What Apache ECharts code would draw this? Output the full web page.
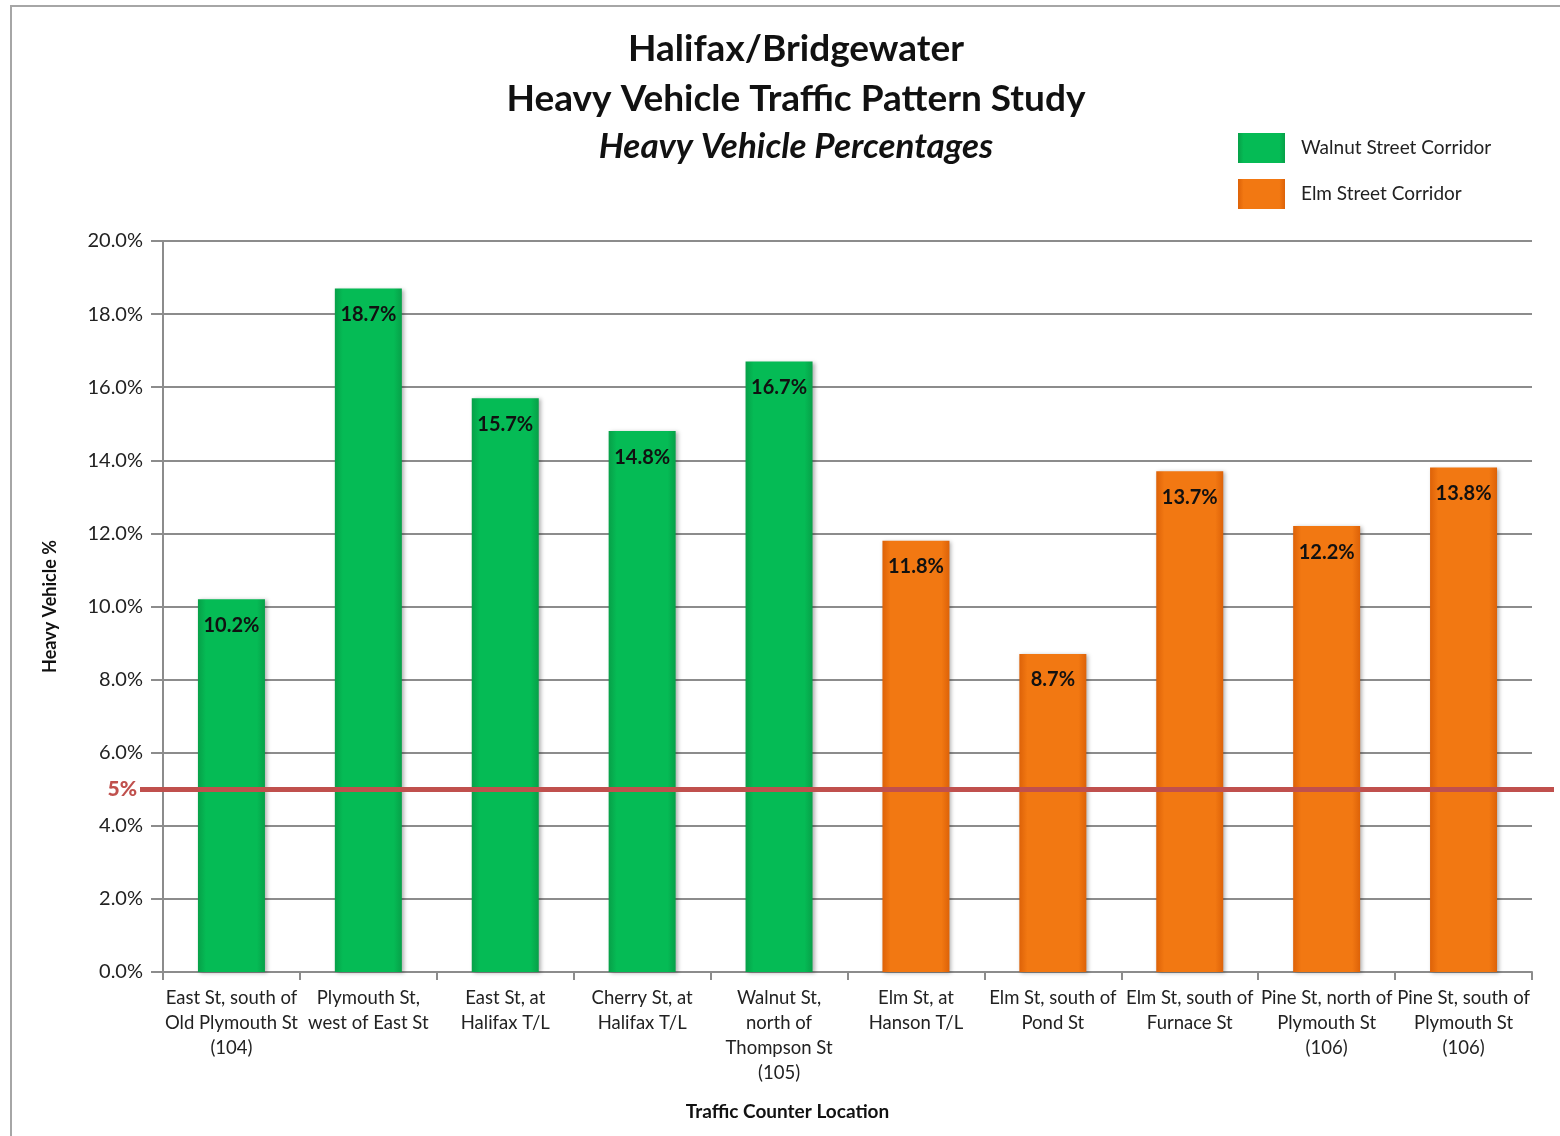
<!DOCTYPE html>
<html>
<head>
<meta charset="utf-8">
<title>Heavy Vehicle Percentages</title>
<script src="https://cdn.jsdelivr.net/npm/echarts@6/dist/echarts.min.js"></script>
<style>
  html, body { margin: 0; padding: 0; background: #fff; }
  #chart { width: 1560px; height: 1136px; }
</style>
</head>
<body>
<div id="chart"></div>
<script>
// locations along the x axis
var locations = [
	'East St, south of\nOld Plymouth St\n(104)',
	'Plymouth St,\nwest of East St',
	'East St, at\nHalifax T/L',
	'Cherry St, at\nHalifax T/L',
	'Walnut St,\nnorth of\nThompson St\n(105)',
	'Elm St, at\nHanson T/L',
	'Elm St, south of\nPond St',
	'Elm St, south of\nFurnace St',
	'Pine St, north of\nPlymouth St\n(106)',
	'Pine St, south of\nPlymouth St\n(106)'
];
var walnutPct = [10.2, 18.7, 15.7, 14.8, 16.7, '-', '-', '-', '-', '-'];
var elmPct = ['-', '-', '-', '-', '-', 11.8, 8.7, 13.7, 12.2, 13.8];
var thresholdPct = 5;

var font = 'Lato, "Open Sans", sans-serif';

// bevel-ish look: darker edges, main colour in the middle
function barFill(edge, mid) {
	return new echarts.graphic.LinearGradient(0, 0, 1, 0, [
		{ offset: 0, color: edge },
		{ offset: 0.12, color: mid },
		{ offset: 0.88, color: mid },
		{ offset: 1, color: edge }
	]);
}

var pctLabel = {
	show: true,
	position: 'insideTop',
	distance: 16,
	color: '#111',
	fontFamily: font,
	fontWeight: 'bold',
	fontSize: 20,
	formatter: function(p) {
		return p.value.toFixed(1) + '%';
	}
};

var myChart = echarts.init(document.getElementById('chart'));
var option = {
	backgroundColor: '#fff',
	textStyle: { fontFamily: font },
	graphic: [ {
		type: 'rect',
		shape: { x: 11, y: 6, width: 1600, height: 1200 },
		style: { fill: 'none', stroke: '#a6a6a6', lineWidth: 2 }
	} ],
	title: [ {
		text: 'Halifax/Bridgewater',
		left: 791, top: 26, textAlign: 'center',
		textStyle: { fontFamily: font, fontSize: 37, fontWeight: 'bold', color: '#111' }
	}, {
		text: 'Heavy Vehicle Traffic Pattern Study',
		left: 791, top: 76, textAlign: 'center',
		textStyle: { fontFamily: font, fontSize: 37, fontWeight: 'bold', color: '#111' }
	}, {
		text: 'Heavy Vehicle Percentages',
		left: 791, top: 124, textAlign: 'center',
		textStyle: { fontFamily: font, fontSize: 35, fontWeight: 'bold', fontStyle: 'italic', color: '#111' }
	} ],
	legend: {
		orient: 'vertical',
		left: 1233,
		top: 128,
		itemWidth: 47,
		itemHeight: 30,
		itemGap: 16,
		icon: 'rect',
		textStyle: { fontFamily: font, fontSize: 19, color: '#222', padding: [0, 0, 0, 11] },
		data: [ 'Walnut Street Corridor', 'Elm Street Corridor' ]
	},
	grid: {
		left: 163,
		right: 28,
		top: 241,
		bottom: 164
	},
	xAxis: {
		type: 'category',
		data: locations,
		name: 'Traffic Counter Location',
		nameLocation: 'middle',
		nameGap: 130,
		nameTextStyle: {
			fontFamily: font, fontSize: 19, fontWeight: 'bold', color: '#111',
			padding: [0, 120, 0, 0]
		},
		axisLine: { lineStyle: { color: '#8c8c8c', width: 2 } },
		axisTick: { show: true, length: 8, lineStyle: { color: '#8c8c8c', width: 2 } },
		axisLabel: {
			interval: 0,
			margin: 14,
			fontFamily: font,
			fontSize: 18.5,
			lineHeight: 25,
			color: '#222'
		}
	},
	yAxis: {
		type: 'value',
		min: 0,
		max: 20,
		interval: 2,
		name: 'Heavy Vehicle %',
		nameLocation: 'middle',
		nameGap: 104,
		nameTextStyle: { fontFamily: font, fontSize: 18, fontWeight: 'bold', color: '#111' },
		axisLine: { show: true, lineStyle: { color: '#8c8c8c', width: 2 } },
		axisTick: { show: true, length: 12, lineStyle: { color: '#8c8c8c', width: 2 } },
		splitLine: { lineStyle: { color: '#8c8c8c', width: 2 } },
		axisLabel: {
			margin: 20,
			fontFamily: font,
			fontSize: 20,
			color: '#222',
			formatter: function(v) {
				return v.toFixed(1) + '%';
			}
		}
	},
	series: [ {
		name: 'Walnut Street Corridor',
		type: 'bar',
		data: walnutPct,
		barWidth: 67,
		barGap: '-100%',
		itemStyle: {
			color: barFill('#07a048', '#05bb55'),
			shadowColor: 'rgba(0,0,0,0.3)',
			shadowBlur: 4,
			shadowOffsetX: 2,
			shadowOffsetY: 1
		},
		label: pctLabel,
		markLine: {
			silent: true,
			symbol: 'none',
			lineStyle: { color: '#c0504d', width: 5, type: 'solid' },
			label: {
				position: 'start',
				distance: 3,
				formatter: thresholdPct + '%',
				color: '#c0504d',
				fontFamily: font,
				fontWeight: 900,
				fontSize: 21
			},
			data: [ [ { x: 140, yAxis: thresholdPct }, { x: 1554, yAxis: thresholdPct } ] ]
		},
		z: 3
	}, {
		name: 'Elm Street Corridor',
		type: 'bar',
		data: elmPct,
		barWidth: 67,
		itemStyle: {
			color: barFill('#dd6208', '#f27812'),
			shadowColor: 'rgba(0,0,0,0.3)',
			shadowBlur: 4,
			shadowOffsetX: 2,
			shadowOffsetY: 1
		},
		label: pctLabel,
		z: 3
	} ]
};
myChart.setOption(option);
</script>
</body>
</html>
